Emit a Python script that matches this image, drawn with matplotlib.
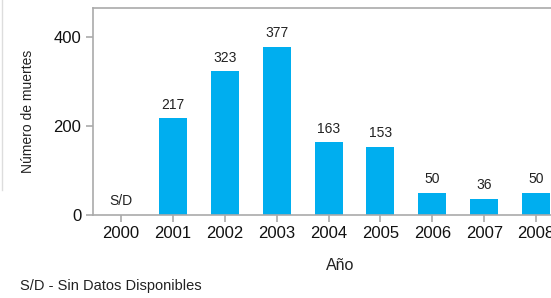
import matplotlib
matplotlib.use("Agg")
import matplotlib.pyplot as plt
from matplotlib.lines import Line2D

years = ["2000", "2001", "2002", "2003", "2004", "2005", "2006", "2007", "2008"]
deaths = [0, 217, 323, 377, 163, 153, 50, 36, 50]
labels = ["S/D", "217", "323", "377", "163", "153", "50", "36", "50"]

plt.rcParams['font.family'] = ['Liberation Sans', 'DejaVu Sans']

fig = plt.figure(figsize=(5.51, 2.98), dpi=100)
ax = fig.add_axes([93/551, 1-215/298, 495/551, 207/298])

x = list(range(len(years)))
ax.bar(x, deaths, width=0.54, color="#00AEEF")
for xi, v, lab in zip(x, deaths, labels):
    if lab == "S/D":
        ax.text(xi, 16, lab, ha="center", va="bottom", fontsize=10, color="#222222")
    else:
        ax.text(xi, v + 15, lab, ha="center", va="bottom", fontsize=10, color="#222222")

ax.set_xlim(-0.54, 9.0)
ax.set_ylim(0, 465)
ax.set_xticks(x)
ax.set_xticklabels(years, fontsize=12)
ax.set_yticks([0, 200, 400])
ax.set_yticklabels(["0", "200", "400"], fontsize=12)
for s in ["left", "top", "bottom", "right"]:
    ax.spines[s].set_color("#aaaaaa")
    ax.spines[s].set_linewidth(1.2)
ax.tick_params(axis="both", colors="#aaaaaa", labelcolor="#111111", length=5, width=1.2)
ax.tick_params(axis="x", pad=3)
ax.set_ylabel("Número de muertes", fontsize=10, color="#222222", labelpad=13)
ax.set_xlabel("Año", fontsize=11.5, color="#222222", labelpad=12)

fig.text(20/551, 1-286/298, "S/D - Sin Datos Disponibles", fontsize=10.5, color="#222222",
         ha="left", va="center")
fig.add_artist(Line2D([1.5/551, 1.5/551], [1-0/298, 1-190/298], color="#dddddd", linewidth=1))

fig.savefig("out.png", dpi=100)
